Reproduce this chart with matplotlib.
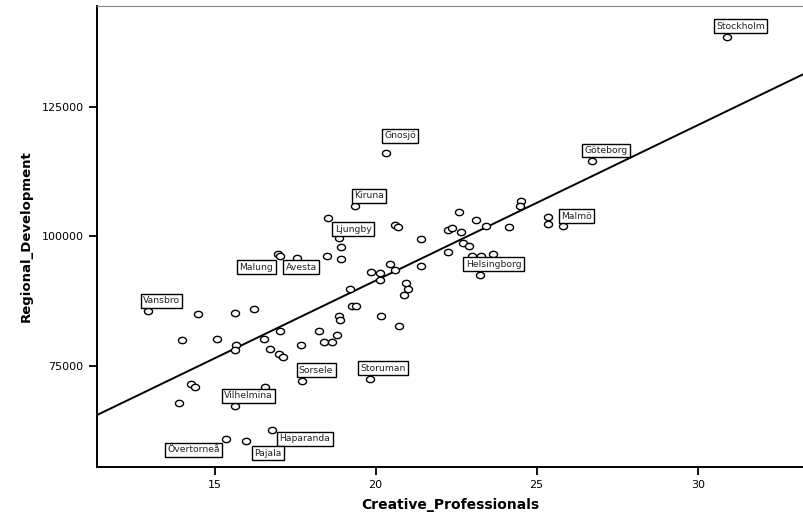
import numpy as np
import matplotlib.pyplot as plt
from matplotlib.path import Path

# data
creative = [30.90, 26.73, 20.32, 19.37, 18.52, 20.60, 20.70, 21.40, 18.87, 18.94,
            18.49, 18.92, 17.56, 16.96, 17.04, 22.59, 23.13, 24.50, 24.47, 22.25,
            22.38, 22.64, 23.44, 24.13, 25.35, 25.35, 25.82, 22.25, 22.71, 22.90,
            23.00, 23.26, 23.65, 23.24, 21.40, 20.44, 20.60, 19.85, 20.14, 20.12,
            20.93, 20.99, 20.88, 19.21, 19.28, 19.39, 18.87, 18.89, 20.18, 20.73,
            18.23, 18.79, 18.41, 18.63, 17.68, 17.72, 19.81, 12.94, 14.49, 15.64,
            16.21, 13.99, 15.06, 15.67, 15.62, 16.52, 17.04, 16.73, 17.01, 17.12,
            14.28, 14.38, 16.58, 15.64, 13.90, 16.78, 15.35, 15.96]
regional = [138400, 114450, 116000, 105780, 103470, 102200, 101800, 99450, 99670, 98020,
            96280, 95570, 95900, 96670, 96150, 104600, 103080, 106800, 105780, 101290,
            101680, 100830, 101930, 101800, 103720, 102450, 101930, 96980, 98710, 98070,
            96150, 96150, 96670, 92620, 94280, 94740, 93590, 93120, 93000, 91660,
            91080, 89790, 88640, 89790, 86580, 86580, 84590, 83960, 84590, 82670,
            81770, 81070, 79640, 79640, 79140, 72130, 72590, 85560, 84980, 85170,
            85940, 79970, 80300, 79010, 78040, 80300, 81770, 78370, 77410, 76750,
            71630, 70990, 70990, 67320, 67970, 62770, 60960, 60650]

label_names = ["Stockholm", "Göteborg", "Gnosjö", "Kiruna", "Ljungby", "Malmö",
               "Helsingborg", "Malung", "Avesta", "Vansbro", "Sorsele", "Storuman",
               "Vilhelmina", "Haparanda", "Övertorneå", "Pajala"]
label_x = [31.33, 27.16, 20.76, 19.80, 19.30, 26.24, 23.66, 16.30, 17.69, 13.35,
           18.15, 20.24, 16.05, 17.80, 14.34, 16.65]
label_y = [140480, 116510, 119360, 107800, 101390, 103890, 94650, 94030, 94030, 87580,
           74230, 74580, 69280, 60960, 58840, 58210]

# fit line as drawn in the reference (intercept, slope)
fit_intercept = 31570
fit_slope = 2995

x_ticks = [15, 20, 25, 30]
y_ticks = [75000, 100000, 125000]

fig = plt.figure(figsize=(8.04, 5.16), dpi=100)
ax = fig.add_axes([0.1203, 0.0955, 0.8797, 0.892])
ax.set_xlim(11.34, 33.3)
ax.set_ylim(55600, 144300)

# slightly flattened circle, the reference looks stretched sideways
t = np.linspace(0, 2 * np.pi, 40)
oval = Path(np.column_stack([np.cos(t), 0.78 * np.sin(t)]))
ax.scatter(creative, regional, marker=oval, s=34, facecolors="white",
           edgecolors="black", linewidths=1.0, zorder=3)

xs = np.array(ax.get_xlim())
ax.plot(xs, fit_intercept + fit_slope * xs, color="black", lw=1.4, zorder=2)

for name, lx, ly in zip(label_names, label_x, label_y):
    ax.text(lx, ly, name, fontsize=6.7, ha="center", va="center", color="#222222",
            bbox=dict(boxstyle="square,pad=0.25", fc="white", ec="black", lw=1.0),
            zorder=4)

ax.set_xticks(x_ticks)
ax.set_yticks(y_ticks)
ax.tick_params(direction="out", length=6, width=1.3, labelsize=8, colors="black")
for side in ["left", "bottom"]:
    ax.spines[side].set_linewidth(1.4)
ax.spines["top"].set_color("#888888")
ax.spines["top"].set_linewidth(0.8)
ax.spines["right"].set_visible(False)

ax.set_xlabel("Creative_Professionals", fontsize=10, fontweight="bold", labelpad=6)
ax.set_ylabel("Regional_Development", fontsize=9.5, fontweight="bold", labelpad=6)

fig.savefig("out.png", dpi=100)
